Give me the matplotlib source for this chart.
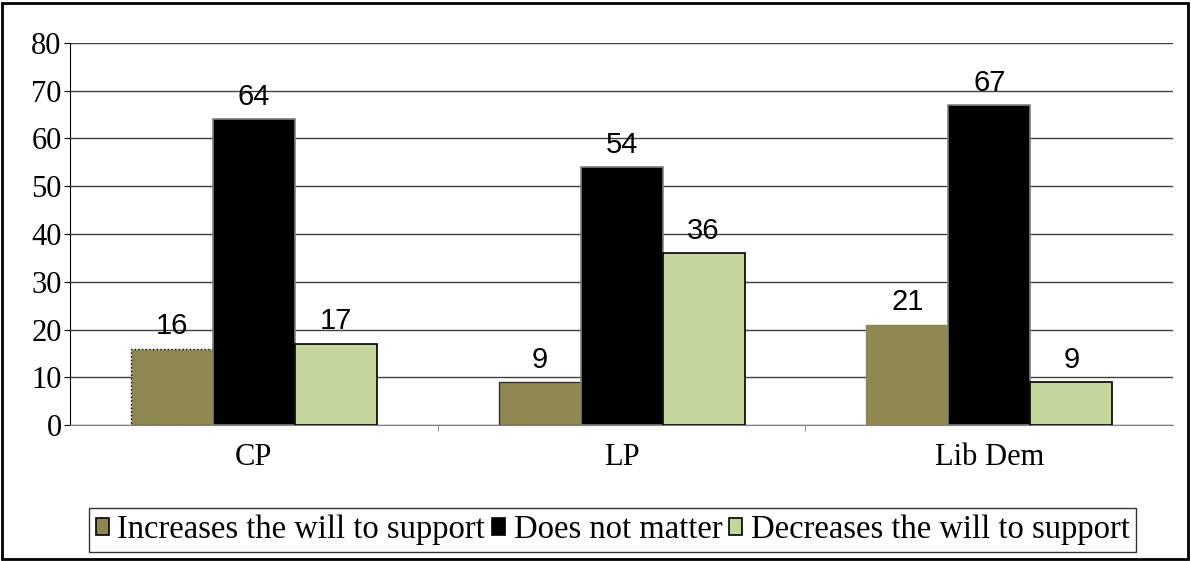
import matplotlib.pyplot as plt
from matplotlib.patches import Rectangle
import numpy as np

parties = ["CP", "LP", "Lib Dem"]
increases = [16, 9, 21]
no_matter = [64, 54, 67]
decreases = [17, 36, 9]
series_names = ["Increases the will to support", "Does not matter",
                "Decreases the will to support"]
y_ticks = [0, 10, 20, 30, 40, 50, 60, 70, 80]


def main():
    fig = plt.figure(figsize=(11.91, 5.61), dpi=100)
    ax = fig.add_axes([0.0588, 0.2424, 0.9262, 0.681])
    x = np.arange(len(parties))
    w = 0.223

    b1 = ax.bar(x - w, increases, w, color="#8F8752", edgecolor="#8F8752",
                linewidth=1, zorder=3, label=series_names[0])
    b1[0].set_edgecolor("black")
    b1[0].set_linestyle(":")
    b1[1].set_edgecolor("#333333")
    b2 = ax.bar(x, no_matter, w, color="black", edgecolor="#808080",
                linewidth=1.2, zorder=3, label=series_names[1])
    b3 = ax.bar(x + w, decreases, w, color="#C4D69B", edgecolor="black",
                linewidth=1.2, zorder=3, label=series_names[2])

    for bars in (b1, b2, b3):
        ax.bar_label(bars, padding=6, fontsize=21, family="Liberation Sans")

    ax.set_xlim(-0.5, 2.5)
    ax.set_ylim(0, 80)
    ax.set_yticks(y_ticks)
    ax.yaxis.grid(True, color="#404040", linewidth=1, zorder=0)
    ax.set_axisbelow(True)
    ax.set_xticks(x)
    ax.set_xticklabels(parties, family="Liberation Serif", fontsize=22)
    ax.set_xticks([0.5, 1.5], minor=True)
    ax.tick_params(axis="x", which="major", length=0, pad=13)
    ax.tick_params(axis="x", which="minor", length=4, color="#808080")
    ax.tick_params(axis="y", length=4, labelsize=22, pad=2)
    for lab in ax.get_yticklabels():
        lab.set_family("Liberation Serif")
    ax.spines["top"].set_visible(False)
    ax.spines["right"].set_visible(False)
    ax.spines["bottom"].set_color("#808080")
    ax.spines["left"].set_color("black")

    leg = fig.legend(loc="lower left", bbox_to_anchor=(89 / 1191, 9 / 561),
                     ncol=3, frameon=True, fancybox=False,
                     prop={"family": "Liberation Serif", "size": 23.5},
                     handlelength=0.42, handleheight=0.42, handletextpad=0.25,
                     columnspacing=0.2, borderpad=0.2, borderaxespad=0)
    leg.get_frame().set_edgecolor("black")
    leg.get_frame().set_linewidth(1)
    for h in leg.legend_handles:
        h.set_edgecolor("black")
        h.set_linestyle("-")
        h.set_linewidth(1.2)

    fig.patches.append(Rectangle((2 / 1191, 2 / 561), 1186 / 1191, 556 / 561,
                                 transform=fig.transFigure, fill=False,
                                 edgecolor="black", linewidth=2))
    fig.savefig("out.png", dpi=100)


if __name__ == "__main__":
    main()
